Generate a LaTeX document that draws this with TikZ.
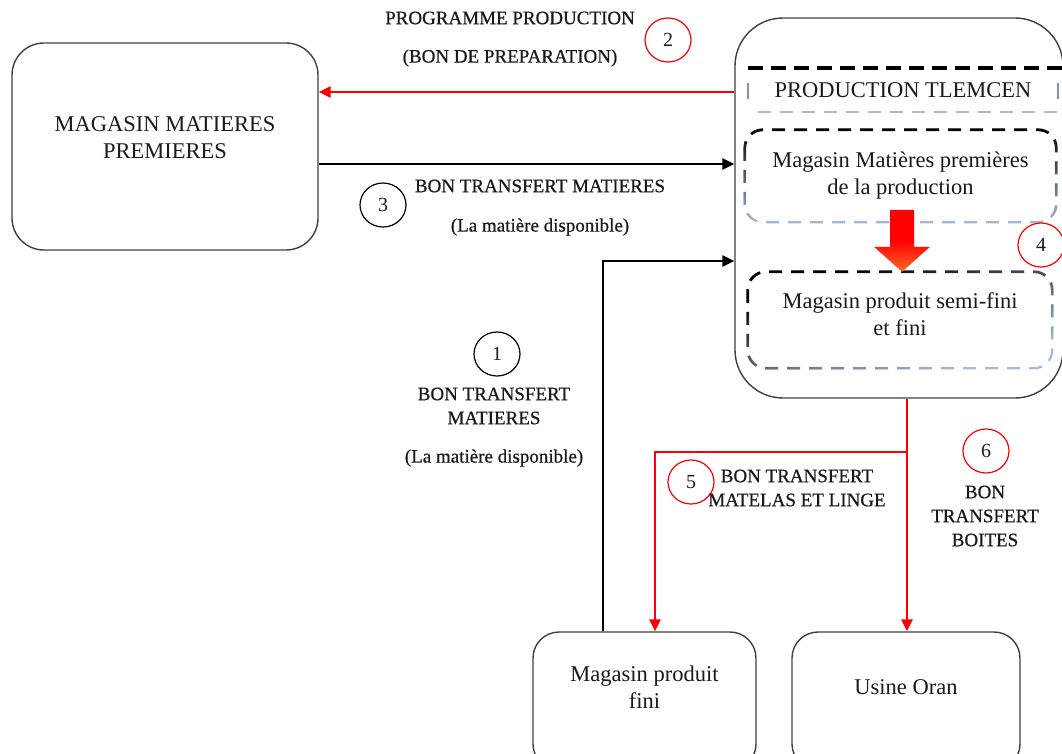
\documentclass[tikz,border=0pt]{standalone}
\usepackage{fontspec}
\setmainfont{Liberation Serif}
\newfontfamily\labelfont{Liberation Serif}[FakeBold=0.6]
\usetikzlibrary{arrows.meta,calc,shapes.geometric,fadings}

% opaque at the top, transparent at the bottom
\tikzfading[name=darktop, top color=transparent!0, bottom color=transparent!100]

\definecolor{frame}{HTML}{404040}
\definecolor{dashblue}{HTML}{A3BBE0}
\definecolor{dashslate}{HTML}{7F93B5}
\definecolor{ink}{HTML}{1A1A1A}
\definecolor{flowred}{HTML}{FF0000}
\definecolor{tipred}{HTML}{FF6A28}

\begin{document}
\begin{tikzpicture}[x=1pt,y=-1pt,
  every node/.style={text=ink},
  maintext/.style={font=\rmfamily\fontsize{22.5}{27}\selectfont, align=center},
  lbl/.style={font=\labelfont\fontsize{19}{24}\selectfont, align=center, inner sep=0pt},
  block/.style={draw=frame, line width=1.4pt, rounded corners=30pt, maintext, inner sep=0pt},
  numcirc/.style={ellipse, draw=#1, line width=1.2pt, minimum width=46pt,
    minimum height=44pt, inner sep=0pt, font=\rmfamily\fontsize{20}{22}\selectfont},
  blackflow/.style={draw=black, line width=2.8pt, -{Triangle[length=12pt,width=11pt]}},
  redflow/.style={draw=flowred, line width=2.8pt, -{Triangle[length=12pt,width=11pt]}},
  redline/.style={draw=flowred, line width=2.8pt},
  dashline/.style={dash pattern=on 13pt off 9pt},
  softdash/.style={draw=dashblue, line width=2.2pt, dashline},
  hardash/.style={draw=black, line width=2.8pt, dashline},
]
\fill[white] (0,0) rectangle (1062,754);
\useasboundingbox (0,0) rectangle (1062,754);

% ---- main blocks (an empty trailing line lifts the text a little) ----
\node[block, minimum width=306pt, minimum height=207pt, rounded corners=32pt]
  (mmp) at (165,146.5) {MAGASIN MATIERES\\PREMIERES\\[-10pt]\mbox{}};
\node[block, minimum width=328pt, minimum height=380pt, rounded corners=48pt]
  (prod) at (899,208) {};
\node[block, minimum width=223pt, minimum height=138pt, rounded corners=26pt]
  (mpf) at (644.5,701) {Magasin produit\\fini\\\mbox{}};
\node[block, minimum width=228pt, minimum height=138pt, rounded corners=26pt]
  (uo) at (906,701) {Usine Oran\\\mbox{}};

% ---- inside the production block ----
\node[maintext, minimum width=310pt, minimum height=44pt, inner sep=0pt]
  (ptl) at (903,90) {PRODUCTION TLEMCEN};
\draw[draw=black, line width=4pt, dash pattern=on 15pt off 8pt]
  (ptl.north west) -- ($(ptl.north east)+(4,0)$);
\draw[softdash, line width=2.6pt] ($(ptl.south west)+(10,0)$) -- ($(ptl.south east)+(4,0)$);
\draw[draw=dashslate, line width=2.4pt] ($(ptl.west)+(0,-7)$) -- ($(ptl.west)+(0,9)$);
\draw[draw=dashslate, line width=2.4pt] ($(ptl.east)+(0,-7)$) -- ($(ptl.east)+(0,9)$);

\node[maintext, minimum width=311pt, minimum height=92pt, inner sep=0pt]
  (mmpp) at (900.5,176) {Magasin Matières premières\\de la production\\[-21pt]\mbox{}};
\draw[softdash, rounded corners=18pt] (mmpp.north west) rectangle (mmpp.south east);
\draw[hardash, rounded corners=18pt, path fading=darktop]
  (mmpp.north west) rectangle (mmpp.south east);

\node[maintext, minimum width=304pt, minimum height=96pt, inner sep=0pt]
  (msf) at (900,320) {Magasin produit semi-fini\\et fini\\[-15pt]\mbox{}};
\draw[softdash, rounded corners=18pt] (msf.north west) rectangle (msf.south east);
\draw[hardash, rounded corners=18pt, path fading=darktop, fading angle=40]
  (msf.north west) rectangle (msf.south east);

% thick block arrow between the two stores
\coordinate (tip) at ($(msf.north)+(2,0)$);
\shade[top color=flowred, bottom color=tipred, middle color=flowred]
  (tip) -- ++(-28,-25) -- ++(16,0) -- ++(0,-37) -- ++(24,0)
  -- ++(0,37) -- ++(16,0) -- cycle;

% ---- connectors ----
\coordinate (y2) at (0,92);
\coordinate (y3) at (0,164);
\coordinate (y1) at (0,261);
\coordinate (x1) at (603,0);
\coordinate (x5) at (655,0);
\coordinate (jn) at (907,452);

\draw[redflow] (prod.west |- y2) -- (mmp.east |- y2);
\draw[blackflow] (mmp.east |- y3) -- (prod.west |- y3);
\draw[blackflow] (mpf.north -| x1) |- (prod.west |- y1);
\draw[redline] (prod.south -| jn) -- (jn);
\draw[redflow] (jn) -| (mpf.north -| x5);
\draw[redflow] (jn) -- (uo.north -| jn);

% ---- labels and step numbers ----
\node[lbl] (l2a) at (510,18) {PROGRAMME PRODUCTION};
\node[lbl] (l2b) at (510,58) {(BON DE PREPARATION)};
\node[numcirc=flowred] (c2) at (668,40) {2};

\node[lbl] (l3a) at (540,186) {BON TRANSFERT MATIERES};
\node[lbl] (l3b) at (540,227) {(La matière disponible)};
\node[numcirc=black] (c3) at (383,205) {3};

\node[numcirc=black] (c1) at (497,354) {1};
\node[lbl] (l1a) at (494,406) {BON TRANSFERT\\MATIERES};
\node[lbl] (l1b) at (494,458) {(La matière disponible)};

\node[numcirc=flowred] (c5) at (691,482) {5};
\node[lbl] (l5) at (797,488) {BON TRANSFERT\\MATELAS ET LINGE};

\node[numcirc=flowred] (c6) at (986,451) {6};
\node[lbl] (l6) at (985,516) {BON\\TRANSFERT\\BOITES};

\node[numcirc=flowred] (c4) at (1041,245) {4};
\end{tikzpicture}
\end{document}
